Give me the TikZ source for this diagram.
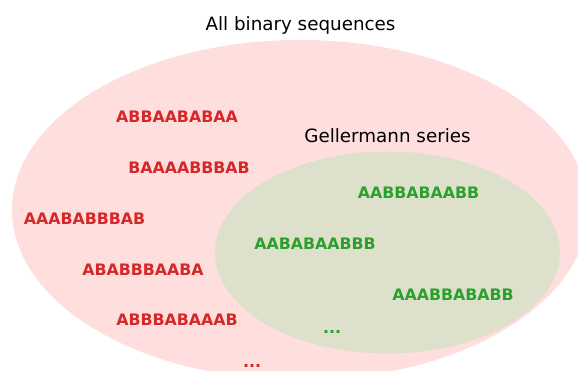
\documentclass[tikz,border=0pt]{standalone}
\usepackage{fontspec}
\setmainfont{DejaVu Sans}
\definecolor{pinkfill}{RGB}{255,222,222}
\definecolor{greenfill}{RGB}{221,225,204}
\definecolor{seqred}{RGB}{214,39,40}
\definecolor{seqgreen}{RGB}{44,160,44}
\begin{document}
\begin{tikzpicture}[x=1pt,y=-1pt,
  title/.style={inner sep=0pt,font=\fontsize{18.3}{22}\selectfont,text=black},
  redseq/.style={inner sep=0pt,font=\fontsize{15.8}{19}\selectfont\bfseries,text=seqred},
  greenseq/.style={inner sep=0pt,font=\fontsize{15.8}{19}\selectfont\bfseries,text=seqgreen}]
\useasboundingbox (0,0) rectangle (578,371);
\begin{scope}
\clip (0,0) rectangle (578,371);
\fill[pinkfill] (300,210) ellipse [x radius=288pt, y radius=170pt];
\fill[greenfill] (387.5,252.5) ellipse [x radius=172.5pt, y radius=101pt];
\end{scope}
\node[title] (all) at (300.5,25.5) {All binary sequences};
\node[title] (gell) at (387.5,135.5) {Gellermann series};
\node[redseq] (r1) at (177,116.8) {ABBAABABAA};
\node[redseq] (r2) at (189,167.5) {BAAAABBBAB};
\node[redseq] (r3) at (84.5,218.5) {AAABABBBAB};
\node[redseq] (r4) at (143,269.5) {ABABBBAABA};
\node[redseq] (r5) at (177,319.5) {ABBBABAAAB};
\node[redseq] (r6) at (252,366) {...};
\node[greenseq] (g1) at (418.5,192.5) {AABBABAABB};
\node[greenseq] (g2) at (315,243.5) {AABABAABBB};
\node[greenseq] (g3) at (453,294.5) {AAABBABABB};
\node[greenseq] (g4) at (332,332) {...};
\end{tikzpicture}
\end{document}
